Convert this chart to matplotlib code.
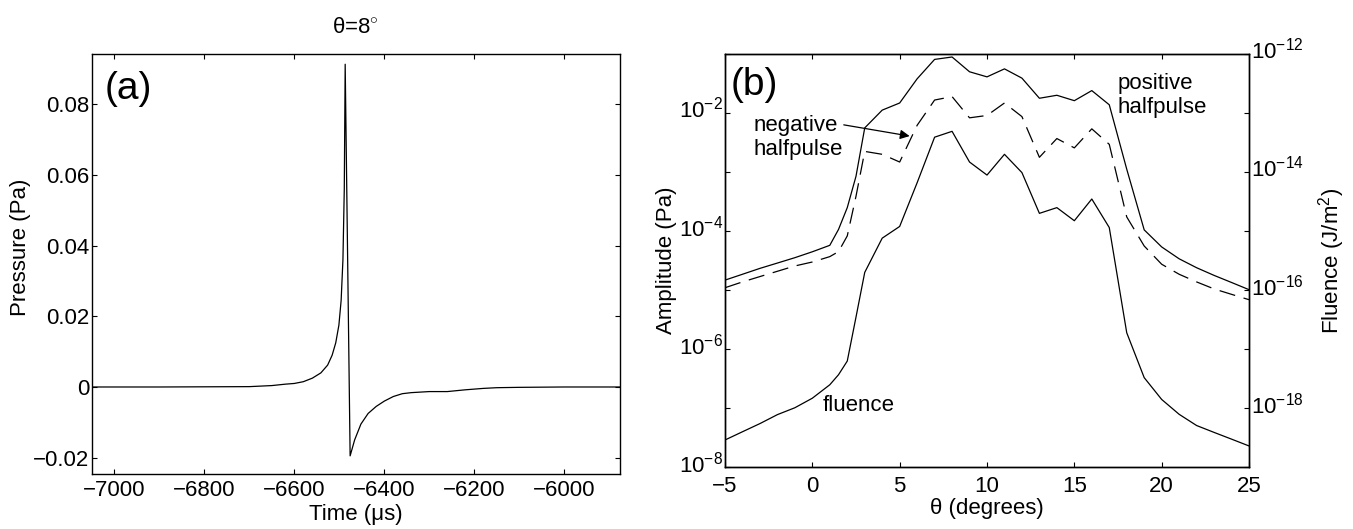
import numpy as np
import matplotlib
matplotlib.use("Agg")
import matplotlib.pyplot as plt
from matplotlib.ticker import FixedLocator, NullFormatter, FuncFormatter, LogFormatterSciNotation
from matplotlib.transforms import ScaledTranslation

plt.rcParams['font.family'] = ['Liberation Sans', 'DejaVu Sans']
plt.rcParams['mathtext.fontset'] = 'custom'
plt.rcParams['mathtext.rm'] = 'Liberation Sans'
plt.rcParams['mathtext.it'] = 'Liberation Sans:italic'
plt.rcParams['mathtext.bf'] = 'Liberation Sans:bold'
plt.rcParams['font.size'] = 16

# panel (a): pressure trace at theta = 8 deg
time_us = [-7051, -6900, -6800, -6700, -6650, -6620, -6600, -6580, -6560, -6541,
           -6526, -6516, -6508, -6501, -6496, -6492, -6489, -6487, -6476, -6466,
           -6452, -6436, -6418, -6400, -6380, -6360, -6340, -6300, -6260, -6220,
           -6180, -6150, -6100, -6000, -5876]
pressure = [0.0, 0.0, 0.00005, 0.0001, 0.0004, 0.0008, 0.0010, 0.0015, 0.0025, 0.0040,
            0.0062, 0.0090, 0.0125, 0.0175, 0.0245, 0.0360, 0.0560, 0.0914, -0.0195, -0.0150,
            -0.0105, -0.0075, -0.0055, -0.0040, -0.0027, -0.0019, -0.0016, -0.0013, -0.0013, -0.0008,
            -0.0004, -0.0002, -0.0001, 0.0, 0.0]

# panel (b): amplitudes and fluence vs angle
theta = [-5, -4, -3, -2, -1, 0, 1, 1.5, 2, 2.5, 3, 4, 5, 6, 7, 8, 9, 10, 11, 12,
         13, 14, 15, 16, 17, 18, 19, 20, 21, 22, 23, 24, 25]
pos_half = [1.48e-5, 1.86e-5, 2.34e-5, 2.88e-5, 3.55e-5, 4.47e-5, 5.75e-5, 1.07e-4, 2.5e-4, 8.5e-4,
            5.6e-3, 1.12e-2, 1.48e-2, 3.8e-2, 8.1e-2, 8.9e-2, 5.0e-2, 4.1e-2, 5.6e-2, 3.9e-2,
            1.78e-2, 2.0e-2, 1.62e-2, 2.4e-2, 1.38e-2, 1.12e-3, 1.05e-4, 5.4e-5, 3.4e-5, 2.4e-5,
            1.78e-5, 1.35e-5, 1.02e-5]
neg_half = [1.10e-5, 1.38e-5, 1.70e-5, 2.09e-5, 2.57e-5, 3.0e-5, 3.7e-5, 4.5e-5, 8.3e-5, 3.9e-4,
            2.24e-3, 2.0e-3, 1.48e-3, 6.2e-3, 1.66e-2, 1.9e-2, 8.3e-3, 9.1e-3, 1.48e-2, 8.7e-3,
            1.78e-3, 3.7e-3, 2.57e-3, 5.4e-3, 2.95e-3, 1.74e-4, 5.6e-5, 2.75e-5, 1.86e-5, 1.38e-5,
            1.05e-5, 8.5e-6, 6.9e-6]
fluence = [2.9e-19, 4.0e-19, 5.5e-19, 7.8e-19, 1.02e-18, 1.48e-18, 2.5e-18, 3.7e-18, 6.3e-18, 3.5e-17,
           2.0e-16, 7.6e-16, 1.2e-15, 6.6e-15, 3.9e-14, 4.9e-14, 1.48e-14, 8.9e-15, 2.0e-14, 9.8e-15,
           2.0e-15, 2.5e-15, 1.5e-15, 3.5e-15, 1.15e-15, 1.9e-17, 3.3e-18, 1.41e-18, 7.9e-19, 5.1e-19,
           3.9e-19, 3.0e-19, 2.3e-19]

W, H = 1353, 529
fig = plt.figure(figsize=(W / 100, H / 100), dpi=100)

def box(l, r, t, b):
    return [l / W, (H - b) / H, (r - l) / W, (b - t) / H]

def minus(v, pos):
    return ('%g' % v).replace('-', '\u2212')

tick_kw = dict(direction='in', length=3.5, width=0.8, labelsize=16)

# ---- (a) ----
axa = fig.add_axes(box(91.5, 620, 54, 473.5))
axa.plot(time_us, pressure, color='black', lw=0.9)
axa.set_xlim(-7051, -5876)
axa.set_ylim(-0.0245, 0.0943)
axa.set_xticks(np.arange(-7000, -5999, 200))
axa.set_yticks([-0.02, 0, 0.02, 0.04, 0.06, 0.08])
axa.xaxis.set_major_formatter(FuncFormatter(minus))
axa.yaxis.set_major_formatter(FuncFormatter(minus))
axa.tick_params(which='both', top=True, right=True, **tick_kw)
axa.tick_params(axis='x', pad=5)
axa.tick_params(axis='y', pad=1.5)
axa.set_xlabel('Time (\u03bcs)', fontsize=16, labelpad=2)
axa.set_ylabel('Pressure (Pa)', fontsize=16)
axa.yaxis.set_label_coords((31.5 - 91.5) / 528.5, 0.54)
axa.set_title('\u03b8=8$^{\\circ}$', fontsize=16, pad=15)
axa.text(-7022, 0.0845, '(a)', fontsize=28, va='center', ha='left')
for s in axa.spines.values():
    s.set_linewidth(1.0)

# ---- (b) ----
axb = fig.add_axes(box(725, 1249, 54, 467.3))
axb.plot(theta, pos_half, color='black', lw=0.9)
axb.plot(theta, neg_half, color='black', lw=0.9, linestyle=(0, (13, 7)))
axb.set_yscale('log')
axb.set_xlim(-5, 25)
axb.set_ylim(1e-8, 1e-1)
axb.set_xticks([-5, 0, 5, 10, 15, 20, 25])
axb.xaxis.set_major_formatter(FuncFormatter(minus))
axb.yaxis.set_major_locator(FixedLocator([1e-8, 1e-6, 1e-4, 1e-2]))
axb.yaxis.set_minor_locator(FixedLocator([1e-7, 1e-5, 1e-3, 1e-1]))
axb.yaxis.set_major_formatter(LogFormatterSciNotation())
axb.yaxis.set_minor_formatter(NullFormatter())
axb.tick_params(which='both', top=True, right=False, **tick_kw)
axb.tick_params(axis='x', pad=6)
axb.tick_params(axis='y', pad=1.5)
axb.set_xlabel('\u03b8 (degrees)', fontsize=16, labelpad=1)
axb.set_ylabel('Amplitude (Pa)', fontsize=16)
axb.yaxis.set_label_coords((677 - 725) / 524, 0.5)

ax2 = axb.twinx()
ax2.plot(theta, fluence, color='black', lw=0.9)
ax2.set_yscale('log')
ax2.set_ylim(1e-19, 1e-12)
ax2.yaxis.set_major_locator(FixedLocator([1e-18, 1e-16, 1e-14, 1e-12]))
ax2.yaxis.set_minor_locator(FixedLocator([1e-19, 1e-17, 1e-15, 1e-13]))
ax2.yaxis.set_major_formatter(LogFormatterSciNotation())
ax2.yaxis.set_minor_formatter(NullFormatter())
ax2.tick_params(which='both', pad=1.5, **tick_kw)
ax2.set_ylabel('Fluence (J/m$^2$)', fontsize=16)
ax2.yaxis.set_label_coords((1316 - 725) / 524, 0.5)
for a in (axb, ax2):
    for s in a.spines.values():
        s.set_linewidth(1.0)

# lift the log labels so the "10" sits level with its tick, exponent above
lift = ScaledTranslation(0, 4 / 72, fig.dpi_scale_trans)
for a in (axb, ax2):
    for t in a.yaxis.get_major_ticks():
        t.label1.set_transform(t.label1.get_transform() + lift)
        t.label2.set_transform(t.label2.get_transform() + lift)

axb.text(-4.7, 10 ** -1.53, '(b)', fontsize=28, va='center', ha='left')
axb.text(17.45, 10 ** -1.70, 'positive\nhalfpulse', fontsize=16, va='center', ha='left')
axb.text(-3.35, 10 ** -2.42, 'negative\nhalfpulse', fontsize=16, va='center', ha='left')
axb.text(0.6, 10 ** -6.96, 'fluence', fontsize=16, va='center', ha='left')
axb.annotate('', xy=(5.57, 10 ** -2.39), xytext=(1.8, 10 ** -2.2),
             arrowprops=dict(arrowstyle='-|>', color='black', lw=0.9,
                             mutation_scale=14, shrinkA=0, shrinkB=0))

fig.savefig('out.png', dpi=100)
